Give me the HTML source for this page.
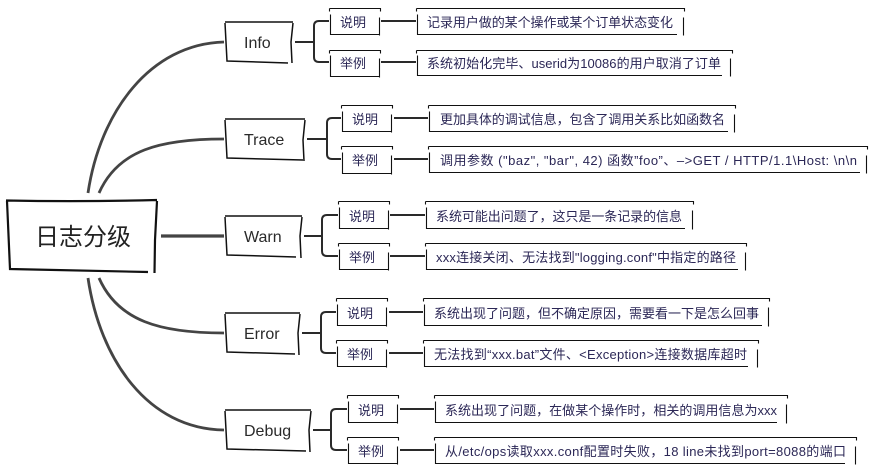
<!DOCTYPE html>
<html><head><meta charset="utf-8">
<style>
html,body{margin:0;padding:0;background:#fff;width:874px;height:471px;overflow:hidden}
svg{display:block}
text{font-family:"Liberation Sans","Noto Sans CJK SC",sans-serif}
.s{font-size:13px;fill:#2b2756}
.m{font-size:16px;fill:#2a2a2a}
.b{fill:none;stroke:#111;stroke-width:1.1}
.n{fill:none;stroke:#111;stroke-width:1.5}
.c{fill:none;stroke:#444;stroke-width:2.8}
.l{fill:none;stroke:#2a2a2a;stroke-width:2}
</style></head><body>
<svg width="874" height="471" viewBox="0 0 874 471" xmlns="http://www.w3.org/2000/svg">
<!-- main curves -->
<path class="c" d="M88 193C100 112 150 44 224 42"/>
<path class="c" d="M99 193C118 150 160 139 224 139"/>
<path class="c" d="M161 236H224" style="stroke-width:3.2"/>
<path class="c" d="M99 278C118 321 160 333 224 333"/>
<path class="c" d="M88 278C100 360 148 429 224 430"/>
<!-- root -->
<path fill="none" stroke="#111" stroke-width="2.2" d="M6 200.500Q80 202 157 200M7 201L10 269Q70 270 148 272M157 201L155 240L154.500 273"/>
<text x="35" y="245" fill="#222" textLength="96" style="font-size:24px">日志分级</text>
<!-- level nodes -->
<path class="n" d="M225 22H293M225 23L227 61Q260 62 288 63M293 23L291 42L292 63"/>
<text class="m" x="244" y="48">Info</text>
<path class="n" d="M225 119H305M225 120L227 158Q265 159 303 160M305 120L303 140L304 161"/>
<text class="m" x="244" y="145">Trace</text>
<path class="n" d="M225 216H302M225 217L227 255Q265 256 296 257M302 217L300 236L301 258"/>
<text class="m" x="244" y="242">Warn</text>
<path class="n" d="M225 313H300M225 314L227 352Q260 353 295 354M300 314L298 333L299 355"/>
<text class="m" x="244" y="339">Error</text>
<path class="n" d="M225 410H311M225 411L227 449Q270 450 306 451M311 411L309 430L310 452"/>
<text class="m" x="244" y="436">Debug</text>
<!-- brackets -->
<path class="l" d="M295 42H314M329 21H319Q314 21 314 26V57Q314 62 319 62H329"/>
<path class="l" d="M307 139H327M341 118H332Q327 118 327 123V154Q327 159 332 159H341"/>
<path class="l" d="M304 236H322M338 215H327Q322 215 322 220V251Q322 256 327 256H338"/>
<path class="l" d="M302 333H321M336 312H326Q321 312 321 317V348Q321 353 326 353H336"/>
<path class="l" d="M313 430H331M347 409H336Q331 409 331 414V445Q331 450 336 450H347"/>
<!-- sub to detail lines -->
<path class="l" d="M381 21H416M381 62H416M394 118H428M394 159H428M390 215H425M390 256H425M389 312H423M389 353H423M400 409H434M400 450H434"/>
<!-- sub boxes -->
<path class="b" d="M329.500 8.500h51v3M329.500 8.500v3M330.500 14.500V34.500H379.500M379.500 17.500V35.500"/>
<path class="b" d="M329.500 50.500h51v3M329.500 50.500v3M330.500 55.500V76.500H379.500M379.500 58.500V77.500"/>
<path class="b" d="M341.500 105.500h51v3M341.500 105.500v3M342.500 111.500V131.500H391.500M391.500 114.500V132.500"/>
<path class="b" d="M341.500 146.500h51v3M341.500 146.500v3M342.500 152.500V173.500H391.500M391.500 155.500V174.500"/>
<path class="b" d="M338.500 201.500h51v3M338.500 201.500v3M339.500 207.500V228.500H388.500M388.500 210.500V229.500"/>
<path class="b" d="M338.500 243.500h51v3M338.500 243.500v3M339.500 249.500V269.500H388.500M388.500 252.500V270.500"/>
<path class="b" d="M336.500 298.500h51v3M336.500 298.500v3M337.500 304.500V325.500H386.500M386.500 307.500V326.500"/>
<path class="b" d="M336.500 340.500h51v3M336.500 340.500v3M337.500 346.500V366.500H386.500M386.500 349.500V367.500"/>
<path class="b" d="M347.500 395.500h51v3M347.500 395.500v3M348.500 401.500V422.500H397.500M397.500 404.500V423.500"/>
<path class="b" d="M347.500 437.500h51v3M347.500 437.500v3M348.500 443.500V463.500H397.500M397.500 446.500V464.500"/>
<text class="s" x="340" y="27">说明</text>
<text class="s" x="340" y="68">举例</text>
<text class="s" x="352" y="124">说明</text>
<text class="s" x="352" y="165">举例</text>
<text class="s" x="349" y="221">说明</text>
<text class="s" x="349" y="262">举例</text>
<text class="s" x="347" y="318">说明</text>
<text class="s" x="347" y="359">举例</text>
<text class="s" x="358" y="415">说明</text>
<text class="s" x="358" y="456">举例</text>
<!-- detail boxes -->
<path class="b" d="M416.500 8.500H684.500v3M416.500 8.500v3M417.500 14.500V34.500H677M683.500 17.500V35.500"/>
<path class="b" d="M416.500 50.500H732.500v3M416.500 50.500v3M417.500 55.500V75.500H722M730.500 58.500V76.500"/>
<path class="b" d="M428.500 105.500H735.500v3M428.500 105.500v3M429.500 111.500V131.500H728M734.500 114.500V132.500"/>
<path class="b" d="M428.500 146.500H867.500v3M428.500 146.500v3M429.500 152.500V172.500H860M866.500 155.500V173.500"/>
<path class="b" d="M425.500 201.500H693.500v3M425.500 201.500v3M426.500 207.500V228.500H685M692.500 210.500V229.500"/>
<path class="b" d="M425.500 243.500H746.500v3M425.500 243.500v3M426.500 249.500V269.500H738M745.500 252.500V270.500"/>
<path class="b" d="M423.500 298.500H769.500v3M423.500 298.500v3M424.500 304.500V325.500H762M768.500 307.500V326.500"/>
<path class="b" d="M423.500 340.500H758.500v3M423.500 340.500v3M424.500 346.500V366.500H748M757.500 349.500V367.500"/>
<path class="b" d="M434.500 395.500H787.500v3M434.500 395.500v3M435.500 401.500V422.500H777M786.500 404.500V423.500"/>
<path class="b" d="M434.500 437.500H856.500v3M434.500 437.500v3M435.500 443.500V463.500H845M855.500 446.500V464.500"/>
<text class="s" x="427" y="27" textLength="246">记录用户做的某个操作或某个订单状态变化</text>
<text class="s" x="427" y="68" textLength="294">系统初始化完毕、userid为10086的用户取消了订单</text>
<text class="s" x="440" y="124" textLength="285">更加具体的调试信息，包含了调用关系比如函数名</text>
<text class="s" x="440" y="165" textLength="417">调用参数 ("baz", "bar", 42) 函数”foo”、–&gt;GET / HTTP/1.1\Host: \n\n</text>
<text class="s" x="436" y="221" textLength="246">系统可能出问题了，这只是一条记录的信息</text>
<text class="s" x="436" y="262" textLength="300">xxx连接关闭、无法找到"logging.conf"中指定的路径</text>
<text class="s" x="434" y="318" textLength="325">系统出现了问题，但不确定原因，需要看一下是怎么回事</text>
<text class="s" x="434" y="359" textLength="313">无法找到“xxx.bat”文件、&lt;Exception&gt;连接数据库超时</text>
<text class="s" x="445" y="415" textLength="332">系统出现了问题，在做某个操作时，相关的调用信息为xxx</text>
<text class="s" x="445" y="456" textLength="401">从/etc/ops读取xxx.conf配置时失败，18 line未找到port=8088的端口</text>
</svg>
</body></html>
